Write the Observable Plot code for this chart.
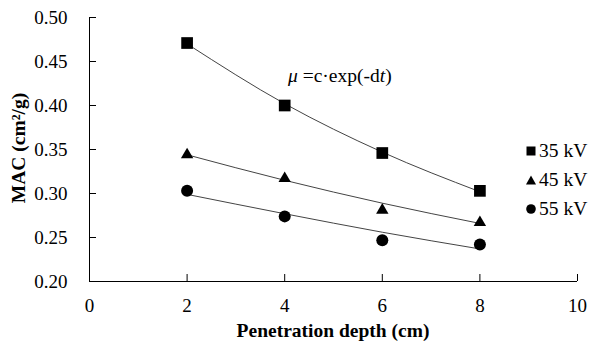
<!DOCTYPE html>
<html><head><meta charset="utf-8">
<script src="https://cdn.jsdelivr.net/npm/d3@7"></script>
<script src="https://cdn.jsdelivr.net/npm/@observablehq/plot@0.6"></script>
<style>
body{margin:0;background:#fff}
#chart{position:relative;width:600px;height:353px;font-family:"Liberation Serif","Times New Roman",serif}
#chart svg, #chart svg text{font-family:"Liberation Serif","Times New Roman",serif !important}
#legend{position:absolute;left:524px;top:136px;font-size:19.5px;color:#000;font-family:"Liberation Serif","Times New Roman",serif}
#legend .row{height:29px;display:flex;align-items:center;white-space:nowrap}
#legend svg{width:14px;height:14px;margin-right:1px}
</style>
</head><body><div id="chart"><div id="legend"></div></div>
<script>
const depths = [2, 4, 6, 8];
const series = ["35 kV", "45 kV", "55 kV"];
const mac35 = [0.471, 0.400, 0.346, 0.303];
const mac45 = [0.344, 0.317, 0.281, 0.267];
const mac55 = [0.303, 0.274, 0.247, 0.242];
const fit35 = [0.470, 0.402, 0.347, 0.302];
const fit45 = [0.344, 0.315, 0.289, 0.266];
const fit55 = [0.299, 0.277, 0.256, 0.237];
const xTicks = [0, 2, 4, 6, 8, 10];
const yTicks = [0.20, 0.25, 0.30, 0.35, 0.40, 0.45, 0.50];
const symbols = ["square", "triangle", "circle"];
const xLabel = "Penetration depth (cm)";
const yLabel = "MAC (cm²/g)";

const macs = [mac35, mac45, mac55];
const fits = [fit35, fit45, fit55];
const rows = [];
series.forEach((s, i) => depths.forEach((d, j) => rows.push({series: s, depth: d, mac: macs[i][j], fit: fits[i][j]})));

const radii = [6.6, 4.6, 6];
const plot = Plot.plot({
  width: 600, height: 353,
  marginLeft: 89, marginRight: 23, marginTop: 17, marginBottom: 72,
  style: {fontFamily: "'Liberation Serif', 'Times New Roman', serif", fontSize: "19px", background: "#fff", color: "#000", overflow: "visible"},
  x: {domain: [0, 10]},
  y: {domain: [0.2, 0.5]},
  marks: [
    Plot.axisX({ticks: xTicks, tickSize: -7, tickPadding: 24, label: null, stroke: "#000", fontSize: 19}),
    Plot.axisY({ticks: yTicks, tickSize: -7, tickPadding: 29, tickFormat: d3.format(".2f"), label: null, stroke: "#000", fontSize: 19}),
    Plot.ruleX([0], {stroke: "#000", strokeWidth: 1}),
    Plot.ruleY([0.2], {stroke: "#000", strokeWidth: 1}),
    Plot.line(rows, {x: "depth", y: "fit", z: "series", stroke: "#444", strokeWidth: 1, curve: "monotone-x"}),
    ...series.map((s, i) => Plot.dot(rows.filter(d => d.series === s), {x: "depth", y: "mac", symbol: () => symbols[i], fill: "#000", stroke: "none", r: radii[i]}))
  ]
});
document.getElementById("chart").prepend(plot);

const svg = d3.select(plot);
const ann = svg.append("text").attr("x", 288).attr("y", 82).attr("font-size", 19.5)
  .attr("text-anchor", "start").attr("fill", "#000");
ann.append("tspan").attr("font-style", "italic").text("μ");
ann.append("tspan").text(" =c·exp(-d");
ann.append("tspan").attr("font-style", "italic").text("t");
ann.append("tspan").text(")");

svg.append("text").attr("x", 333).attr("y", 337).attr("text-anchor", "middle")
  .attr("font-weight", "bold").attr("font-size", 19.5).attr("fill", "#000").text(xLabel);
svg.append("text").attr("transform", "translate(25,148) rotate(-90)").attr("text-anchor", "middle")
  .attr("font-weight", "bold").attr("font-size", 19.5).attr("fill", "#000").text(yLabel);

const legend = d3.select("#legend");
const glyphs = [
  g => g.append("rect").attr("x", 2.5).attr("y", 2.5).attr("width", 9).attr("height", 9),
  g => g.append("polygon").attr("points", "7,2.5 12,11.5 2,11.5"),
  g => g.append("circle").attr("cx", 7).attr("cy", 7).attr("r", 4.8)
];
series.forEach((s, i) => {
  const row = legend.append("div").attr("class", "row");
  const sv = row.append("svg").attr("viewBox", "0 0 14 14");
  glyphs[i](sv.append("g").attr("fill", "#000"));
  row.append("span").text(s);
});
</script>
</body></html>
